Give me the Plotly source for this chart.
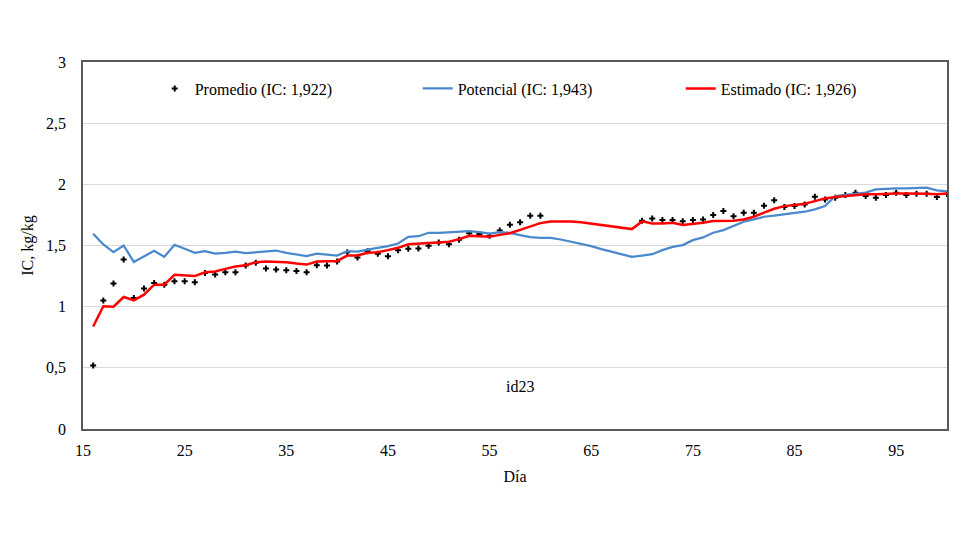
import plotly.graph_objects as go

days = list(range(16, 101))

promedio = [0.52, 1.05, 1.19, 1.385, 1.07, 1.148, 1.194, 1.18, 1.208, 1.208,
            1.20, 1.276, 1.262, 1.281, 1.281, 1.336, 1.358, 1.311, 1.303, 1.298,
            1.292, 1.281, 1.339, 1.336, 1.369, 1.445, 1.402, 1.453, 1.432, 1.413,
            1.462, 1.473, 1.476, 1.497, 1.525, 1.511, 1.546, 1.601, 1.593, 1.579,
            1.623, 1.669, 1.691, 1.743, 1.743,
            None, None, None, None, None, None, None, None, None,
            1.702, 1.721, 1.708, 1.708, 1.699, 1.708, 1.713, 1.749, 1.781, 1.74,
            1.768, 1.768, 1.825, 1.869, 1.814, 1.822, 1.836, 1.899, 1.877, 1.891,
            1.913, 1.932, 1.904, 1.891, 1.913, 1.932, 1.913, 1.923, 1.923, 1.896,
            1.922]

potencial = [1.596, 1.508, 1.445, 1.50, 1.366, 1.412, 1.456, 1.407, 1.506, 1.473,
             1.44, 1.453, 1.434, 1.44, 1.45, 1.437, 1.445, 1.45, 1.459, 1.44,
             1.426, 1.413, 1.434, 1.426, 1.418, 1.454, 1.45, 1.467, 1.478, 1.495,
             1.516, 1.571, 1.576, 1.604, 1.604, 1.609, 1.609, 1.617, 1.609, 1.598,
             1.609, 1.604, 1.585, 1.568, 1.563, 1.563, 1.549, 1.533, 1.514, 1.495,
             1.47, 1.448, 1.428, 1.407, 1.418, 1.429, 1.462, 1.489, 1.503, 1.544,
             1.566, 1.604, 1.626, 1.658, 1.694, 1.713, 1.735, 1.745, 1.754, 1.768,
             1.776, 1.795, 1.822, 1.904, 1.913, 1.918, 1.932, 1.959, 1.964, 1.967,
             1.967, 1.97, 1.973, 1.951, 1.943]

estimado = [0.838, 1.003, 1.0, 1.079, 1.052, 1.098, 1.18, 1.18, 1.26, 1.257,
            1.25, 1.281, 1.287, 1.309, 1.328, 1.339, 1.363, 1.369, 1.369, 1.363,
            1.352, 1.344, 1.369, 1.369, 1.374, 1.418, 1.418, 1.44, 1.445, 1.462,
            1.481, 1.51, 1.512, 1.52, 1.525, 1.53, 1.552, 1.58, 1.576, 1.572,
            1.587, 1.600, 1.628, 1.656, 1.683, 1.697, 1.699, 1.697, 1.69, 1.678,
            1.667, 1.658, 1.648, 1.634, 1.697, 1.68, 1.68, 1.686, 1.667, 1.675,
            1.686, 1.70, 1.70, 1.702, 1.713, 1.735, 1.768, 1.80, 1.822, 1.83,
            1.842, 1.863, 1.885, 1.896, 1.904, 1.913, 1.918, 1.918, 1.923, 1.926,
            1.926, 1.926, 1.923, 1.918, 1.926]

x_ticks = [15, 25, 35, 45, 55, 65, 75, 85, 95]
y_ticks = [0, 0.5, 1, 1.5, 2, 2.5, 3]

FONT = "Liberation Serif, Times New Roman, serif"

fig = go.Figure()
fig.add_trace(go.Scatter(x=days, y=promedio, mode="markers",
                         name="Promedio (IC: 1,922)",
                         marker=dict(symbol="cross", size=5, color="#000000")))
fig.add_trace(go.Scatter(x=days, y=potencial, mode="lines",
                         name="Potencial (IC: 1,943)",
                         line=dict(color="#4A89CC", width=2.25)))
fig.add_trace(go.Scatter(x=days, y=estimado, mode="lines",
                         name="Estimado (IC: 1,926)",
                         line=dict(color="#FF0000", width=2.5)))

fig.update_layout(
    width=980, height=553,
    margin=dict(l=75, r=41, t=54, b=132),
    paper_bgcolor="white", plot_bgcolor="white",
    font=dict(family=FONT, size=16, color="#000000"),
    separators=", ",
    showlegend=True,
    legend=dict(orientation="h", x=0.083, y=0.974, xanchor="left", yanchor="top",
                bgcolor="rgba(0,0,0,0)", entrywidth=218, entrywidthmode="pixels",
                font=dict(family=FONT, size=16)),
    xaxis=dict(range=[15, 100], tickvals=x_ticks, showgrid=False, zeroline=False,
               showline=True, linecolor="#595959", linewidth=1.5, mirror=True,
               ticks="", ticklabelstandoff=6,
               title=dict(text="Día", standoff=13, font=dict(family=FONT, size=16))),
    yaxis=dict(range=[0, 3], tickvals=y_ticks, showgrid=True, gridcolor="#D9D9D9",
               gridwidth=1, zeroline=False,
               showline=True, linecolor="#595959", linewidth=1.5, mirror=True,
               ticks="", ticklabelstandoff=12, tickformat=".1~f",
               title=dict(text="IC, kg/kg", standoff=8, font=dict(family=FONT, size=16))),
    annotations=[dict(text="id23", x=0.506, y=0.087, xref="paper", yref="paper",
                      showarrow=False, font=dict(family=FONT, size=16))],
)

fig.write_html("out.html")
